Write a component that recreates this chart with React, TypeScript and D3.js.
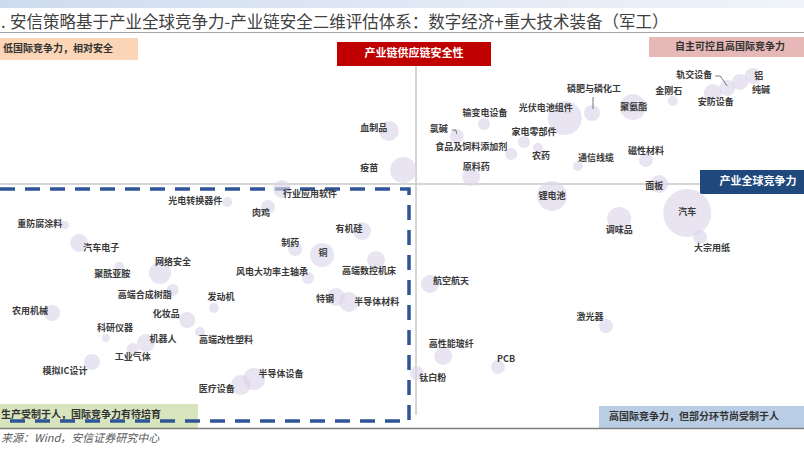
import * as d3 from 'd3';

// 行业名称
const industries = [
  '血制品', '疫苗', '氯碱', '输变电设备', '光伏电池组件', '家电零部件', '食品及饲料添加剂', '农药',
  '原料药', '通信线缆', '磷肥与磷化工', '聚氨酯', '金刚石', '安防设备', '轨交设备', '纯碱', '铝',
  '磁性材料', '面板', '锂电池', '调味品', '汽车', '大宗用纸', '航空航天', '激光器', '高性能玻纤',
  'PCB', '钛白粉', '行业应用软件', '光电转换器件', '肉鸡', '有机硅', '制药', '铜', '高端数控机床',
  '风电大功率主轴承', '发动机', '特钢', '半导体材料', '重防腐涂料', '汽车电子', '聚酰亚胺', '网络安全',
  '高端合成树脂', '农用机械', '化妆品', '科研仪器', '高端改性塑料', '机器人', '工业气体', '模拟IC设计',
  '半导体设备', '医疗设备',
];

// 产业全球竞争力 (横轴)
const competitiveness = [
  -3.4, -1.6, 5.1, 8.5, 18.6, 13.5, 11.9, 15.25,
  6.9, 20.25, 22, 27.1, 32.1, 37.1, 38.9, 40.5, 42.1,
  28.75, 30.4, 17, 25.4, 33.9, 35.5, 1.75, 23.75, 3.4,
  10.25, 0.1, -16.75, -23.6, -18.5, -6.75, -15.1, -11.75, -5,
  -13.5, -25.25, -10, -8.4, -43.9, -42.1, -37.1, -32,
  -30.4, -45.5, -28.6, -38.75, -27, -33.75, -35.4, -40.5,
  -20.25, -21.9,
];

// 产业链供应链安全性 (纵轴)
const security = [
  13.25, 3.5, 12, 15, 16.5, 10.5, 7.5, 9,
  1.75, 4.5, 17.75, 19.25, 20.75, 22.75, 24, 25.5, 27,
  6, 0, -3, -8.75, -7.25, -13.25, -25, -35.5, -43,
  -45.75, -47.25, -1.25, -4.5, -5.75, -11.75, -16.25, -17.75, -19,
  -23.5, -31, -28.25, -29.5, -10.25, -14.75, -20.75, -22.25,
  -26.5, -32.25, -34, -38.5, -37, -39.75, -41.25, -44.5,
  -48.75, -50.25,
];

// 气泡大小
const sizes = [
  104, 176, 51, 38, 301, 38, 38, 26,
  84, 26, 67, 176, 26, 84, 67, 67, 67,
  51, 84, 234, 150, 600, 51, 84, 51, 84,
  51, 51, 84, 26, 51, 84, 51, 150, 84,
  38, 26, 84, 104, 17, 84, 26, 126,
  38, 67, 67, 17, 26, 84, 38, 67,
  126, 104,
];

// 标签相对气泡中心的偏移
const labelOffsets: [number, number][] = [
  [-15, -2], [-34, -1], [-18, -6], [1, -10], [-19, -9], [10, -9], [-40, -6], [3, 9],
  [5, -9], [18, -7], [2, -23], [1, 1], [-4, -9], [3, 10], [-33, -12], [21, 9], [6, 1],
  [0, -8], [-5, 3], [0, 1], [0, 12], [0, 0], [12, 12], [21, -2], [-16, -8], [8, -11],
  [8, -7], [16, 6], [28, 6], [-32, 0], [-7, 7], [-13, -1], [-5, -5], [1, -1], [-7, 12],
  [-36, -5], [7, -10], [-11, 3], [28, 1], [-25, 0], [22, 6], [-7, 8], [13, -10],
  [-28, 6], [-22, -1], [-21, -5], [9, -9], [26, 9], [17, -3], [0, 9], [-27, 10],
  [27, -4], [-24, 5],
];

// 引导线
const leaders: Record<string, [number, number][]> = {
  '氯碱': [[-5, -6], [-1, -6], [0, -2]],
  '磷肥与磷化工': [[1, -16], [1, -4]],
  '轨交设备': [[-12, -12], [-7, -12], [0, -2]],
};

const W = 804;
const H = 454;
const FONT = '"Noto Sans CJK SC", "Noto Sans", sans-serif';

export default function App() {
  const x = d3.scaleLinear().domain([-52, 48]).range([0, 800]);
  const y = d3.scaleLinear().domain([-62, 30]).range([432, 64]);
  const r = d3.scaleSqrt().domain([0, 600]).range([0, 24]);
  const line = d3.line();

  const pts = industries.map((name, i) => ({
    name,
    cx: x(competitiveness[i]),
    cy: y(security[i]),
    rad: r(sizes[i]),
    off: labelOffsets[i],
  }));

  return (
    <svg width={W} height={H} style={{ position: 'absolute', left: 0, top: 0, background: '#fff' }}
      fontFamily={FONT}>
      <defs>
        <linearGradient id="hdr" x1="0" x2="1" y1="0" y2="0">
          <stop offset="0" stopColor="#cfdcef" />
          <stop offset="1" stopColor="#f0f4fa" />
        </linearGradient>
      </defs>
      <rect x={0} y={0} width={W} height={8} fill="url(#hdr)" />
      <text x={1} y={28} fontSize={16.5} fill="#404040">.</text>
      <text x={10} y={28} fontSize={16.5} fill="#404040">
        安信策略基于产业全球竞争力-产业链安全二维评估体系：数字经济+重大技术装备（军工）
      </text>
      <line x1={0} x2={W} y1={32.5} y2={32.5} stroke="#a6a6a6" strokeWidth={1} />

      {/* 坐标轴 */}
      <line x1={x(0)} x2={x(0)} y1={66} y2={415} stroke="#c8c8c8" strokeWidth={1.5} />
      <line x1={0} x2={800} y1={y(0)} y2={y(0)} stroke="#c8c8c8" strokeWidth={1.5} />

      {/* 象限标签 */}
      <rect x={0} y={38} width={138} height={22} fill="#fbd5b5" />
      <text x={3} y={49} fontSize={10} fontWeight="bold" fill="#333" dominantBaseline="middle">
        低国际竞争力，相对安全
      </text>
      <rect x={337} y={42} width={154} height={24} fill="#c00000" />
      <text x={414} y={54} fontSize={11} fontWeight="bold" fill="#fff" textAnchor="middle"
        dominantBaseline="middle">产业链供应链安全性</text>
      <rect x={649} y={37} width={155} height={20} fill="#e6b9b8" />
      <text x={730} y={47} fontSize={10} fontWeight="bold" fill="#333" textAnchor="middle"
        dominantBaseline="middle">自主可控且高国际竞争力</text>
      <rect x={700} y={170} width={104} height={24} fill="#1f497d" />
      <text x={758} y={182} fontSize={11} fontWeight="bold" fill="#fff" textAnchor="middle"
        dominantBaseline="middle">产业全球竞争力</text>
      <rect x={599} y={406} width={205} height={22} fill="#b9cde5" />
      <text x={609} y={417} fontSize={10} fontWeight="bold" fill="#333"
        dominantBaseline="middle">高国际竞争力，但部分环节尚受制于人</text>
      <rect x={0} y={404} width={198} height={24} fill="#d7e4bd" />

      {/* 虚线框 */}
      <path d="M0,189 H409 V421 H0" fill="none" stroke="#2f5597" strokeWidth={3.5}
        strokeDasharray="15,10" />
      <text x={1} y={415} fontSize={10} fontWeight="bold" fill="#333"
        dominantBaseline="middle">生产受制于人，国际竞争力有待培育</text>

      {/* 气泡 */}
      {pts.map(p => (
        <circle key={'c' + p.name} cx={p.cx} cy={p.cy} r={p.rad} fill="#dcd5ea" fillOpacity={0.65} />
      ))}
      {pts.filter(p => leaders[p.name]).map(p => (
        <path key={'l' + p.name}
          d={line(leaders[p.name].map(([dx, dy]) => [p.cx + dx, p.cy + dy] as [number, number])) || ''}
          fill="none" stroke="#595959" strokeWidth={0.8} />
      ))}
      {pts.map(p => (
        <text key={'t' + p.name} x={p.cx + p.off[0]} y={p.cy + p.off[1]} fontSize={9}
          fontWeight="bold" fill="#3a3a3a" textAnchor="middle" dominantBaseline="middle">
          {p.name}
        </text>
      ))}

      <line x1={0} x2={W} y1={428.5} y2={428.5} stroke="#7f7f7f" strokeWidth={1.5} />
      <text x={1} y={442} fontSize={11} fontStyle="italic" fill="#595959">
        来源：Wind，安信证券研究中心
      </text>
    </svg>
  );
}
